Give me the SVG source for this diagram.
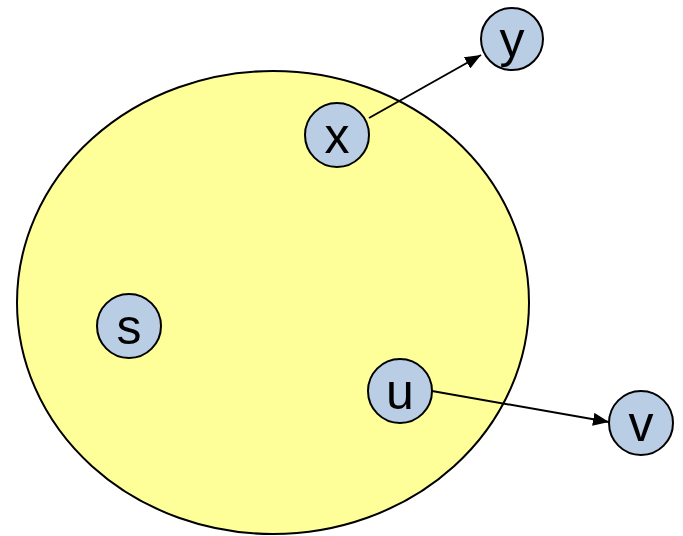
<svg xmlns="http://www.w3.org/2000/svg" width="683" height="536" viewBox="0 0 683 536">
<defs>
<style>
.node circle{fill:#b9cde5;stroke:#000;stroke-width:2}
.node text{font-family:"Liberation Sans",Arial,sans-serif;font-size:50px;text-anchor:middle;fill:#000}
.edge{stroke:#000;stroke-width:2;fill:none;marker-end:url(#arr)}
</style>
<marker id="arr" viewBox="0 0 10 10" refX="10" refY="5" markerWidth="8" markerHeight="6.5" markerUnits="strokeWidth" orient="auto" preserveAspectRatio="none">
<path d="M0,0 L10,5 L0,10 z" fill="#000"/>
</marker>
</defs>
<rect width="683" height="536" fill="#fff"/>
<g id="region"><ellipse cx="273" cy="302.5" rx="256" ry="231.5" fill="#ffff99" stroke="#000" stroke-width="2"/></g>
<g id="connectors">
<line class="edge" x1="369" y1="118" x2="481" y2="55"/>
<line class="edge" x1="432" y1="391" x2="609" y2="422"/>
</g>
<g id="node-x" class="node"><circle cx="337" cy="135" r="32"/><text x="337" y="153">x</text></g>
<g id="node-y" class="node"><circle cx="512" cy="39" r="31"/><text x="512" y="57">y</text></g>
<g id="node-s" class="node"><circle cx="129" cy="326" r="32"/><text x="129" y="344">s</text></g>
<g id="node-u" class="node"><circle cx="400" cy="391" r="32"/><text x="400" y="409">u</text></g>
<g id="node-v" class="node"><circle cx="641" cy="423" r="32"/><text x="641" y="441">v</text></g>
</svg>
